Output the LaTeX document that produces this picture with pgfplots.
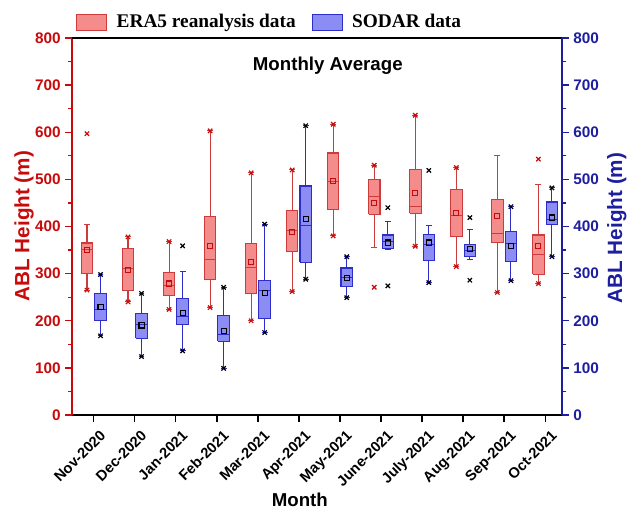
\documentclass[border=0pt]{standalone}
\usepackage{pgfplots}
\pgfplotsset{compat=1.18}
\usepackage{fontspec}
\setmainfont{Liberation Sans}
\newfontfamily\legfont{Liberation Serif}
\definecolor{axred}{RGB}{200,10,10}
\definecolor{axblue}{RGB}{30,30,160}
\definecolor{redE}{RGB}{205,60,60}
\definecolor{redF}{RGB}{245,140,140}
\definecolor{blueE}{RGB}{45,45,200}
\definecolor{blueF}{RGB}{140,140,245}
% #1 left edge, #2 right edge, #3 centre, #4 lower whisker, #5 lower quartile, #6 median, #7 upper quartile, #8 upper whisker
\newcommand{\rbox}[8]{%
\addplot[forget plot, draw=redE, line width=0.8pt, mark=-, mark size=2.2pt] coordinates {(#3,#4) (#3,#5)};
\addplot[forget plot, draw=redE, line width=0.8pt, mark=-, mark size=2.2pt] coordinates {(#3,#7) (#3,#8)};
\addplot[forget plot, draw=redE, fill=redF, line width=0.8pt] coordinates {(#1,#5) (#2,#5) (#2,#7) (#1,#7) (#1,#5)};
\addplot[forget plot, draw=redE, line width=0.8pt] coordinates {(#1,#6) (#2,#6)};}
\newcommand{\bbox}[8]{%
\addplot[forget plot, draw=blueE, line width=0.8pt, mark=-, mark size=2.2pt] coordinates {(#3,#4) (#3,#5)};
\addplot[forget plot, draw=blueE, line width=0.8pt, mark=-, mark size=2.2pt] coordinates {(#3,#7) (#3,#8)};
\addplot[forget plot, draw=blueE, fill=blueF, line width=0.8pt] coordinates {(#1,#5) (#2,#5) (#2,#7) (#1,#7) (#1,#5)};
\addplot[forget plot, draw=blueE, line width=0.8pt] coordinates {(#1,#6) (#2,#6)};}
\begin{document}
\begin{tikzpicture}
\begin{axis}[
  at={(0pt,0pt)}, anchor=south west,
  scale only axis, width=367.5pt, height=282.75pt,
  xmin=0.47, xmax=12.41, ymin=0, ymax=800,
  axis x line*=bottom, axis y line*=left,
  axis line style={-, line width=1pt},
  x axis line style={black},
  y axis line style={axred},
  xtick={1,...,12},
  xticklabels={Nov-2020,Dec-2020,Jan-2021,Feb-2021,Mar-2021,Apr-2021,May-2021,June-2021,July-2021,Aug-2021,Sep-2021,Oct-2021},
  xtick style={black, line width=1pt},
  ytick={0,100,...,800}, minor y tick num=1,
  ytick style={axred, line width=1pt},
  tick align=outside, major tick length=5pt, minor tick length=3pt,
  /pgf/number format/assume math mode=true,
  yticklabel style={text=axred, font=\fontsize{11.5}{13}\selectfont\bfseries},
  xticklabel style={xshift=4pt, yshift=-5.5pt, rotate=45, anchor=north east, font=\fontsize{11}{13}\selectfont\bfseries, inner sep=0pt},
  ylabel={ABL Height (m)},
  ylabel style={at={(axis description cs:-0.098,0.501)}, anchor=center, text=axred, font=\fontsize{15.5}{17}\selectfont\bfseries},
  xlabel={Month},
  xlabel style={at={(axis description cs:0.465,-0.225)}, anchor=center, font=\fontsize{14}{16}\selectfont\bfseries},
  legend style={at={(axis description cs:0.0,1.042)}, anchor=west, draw=none, fill=none, legend columns=2,
    font=\legfont\bfseries\fontsize{14.5}{16}\selectfont,
    /tikz/every even column/.append style={column sep=10pt}},
  legend cell align=left,
  legend image code/.code={\draw[#1, line width=0.8pt] (0pt,-6pt) rectangle (22.5pt,6pt);},
  clip=false,
]
\addlegendimage{draw=redE, fill=redF}
\addlegendentry{\hspace{5pt}ERA5 reanalysis data}
\addlegendimage{draw=blueE, fill=blueF}
\addlegendentry{\hspace{5pt}SODAR data}
% ERA5 boxes
\rbox{0.695}{0.975}{0.835}{265}{300}{351}{365}{404}
\rbox{1.695}{1.975}{1.835}{240}{265}{310}{353}{378}
\rbox{2.695}{2.975}{2.835}{224}{254}{274}{303}{368}
\rbox{3.695}{3.975}{3.835}{228}{288}{329}{421}{603}
\rbox{4.695}{4.975}{4.835}{200}{258}{313}{364}{514}
\rbox{5.695}{5.975}{5.835}{262}{346}{391}{433}{520}
\rbox{6.695}{6.975}{6.835}{380}{437}{496}{556}{617}
\rbox{7.695}{7.975}{7.835}{356}{426}{463}{500}{530}
\rbox{8.695}{8.975}{8.835}{358}{428}{442}{520}{636}
\rbox{9.695}{9.975}{9.835}{315}{378}{423}{479}{525}
\rbox{10.695}{10.975}{10.835}{260}{366}{386}{458}{551}
\rbox{11.695}{11.975}{11.835}{279}{299}{341}{382}{490}
% SODAR boxes
\bbox{1.025}{1.305}{1.165}{168}{200}{224}{257}{298}
\bbox{2.025}{2.305}{2.165}{124}{163}{192}{216}{258}
\bbox{3.025}{3.305}{3.165}{136}{192}{210}{247}{304}
\bbox{4.025}{4.305}{4.165}{99}{156}{170}{211}{271}
\bbox{5.025}{5.305}{5.165}{175}{204}{265}{286}{405}
\bbox{6.025}{6.305}{6.165}{288}{324}{403}{486}{614}
\bbox{7.025}{7.305}{7.165}{249}{272}{291}{312}{336}
\bbox{8.025}{8.305}{8.165}{351}{353}{368}{382}{411}
\bbox{9.025}{9.305}{9.165}{281}{327}{362}{384}{403}
\bbox{10.025}{10.305}{10.165}{329}{337}{350}{362}{394}
\bbox{11.025}{11.305}{11.165}{285}{325}{364}{389}{442}
\bbox{12.025}{12.305}{12.165}{336}{405}{415}{452}{482}
% means
\addplot[forget plot, only marks, mark=square, mark size=1.9pt, mark options={draw=axred, line width=0.8pt}] coordinates {
(0.835,351) (1.835,307) (2.835,279) (3.835,358) (4.835,325) (5.835,389)
(6.835,496) (7.835,449) (8.835,471) (9.835,428) (10.835,423) (11.835,358)};
\addplot[forget plot, only marks, mark=square, mark size=1.9pt, mark options={draw=black, line width=0.8pt}] coordinates {
(1.165,230) (2.165,190) (3.165,216) (4.165,179) (5.165,259) (6.165,416)
(7.165,291) (8.165,366) (9.165,366) (10.165,352) (11.165,358) (12.165,419)};
% extremes / outliers
\addplot[forget plot, only marks, mark=x, mark size=2.3pt, mark options={draw=axred, line width=0.9pt}] coordinates {
(0.835,265) (0.835,597) (1.835,240) (1.835,378) (2.835,224) (2.835,368)
(3.835,228) (3.835,603) (4.835,200) (4.835,514) (5.835,262) (5.835,520)
(6.835,380) (6.835,617) (7.835,530) (7.835,271) (8.835,358) (8.835,636)
(9.835,315) (9.835,525) (10.835,260) (11.835,279) (11.835,543)};
\addplot[forget plot, only marks, mark=x, mark size=2.3pt, mark options={draw=black, line width=0.9pt}] coordinates {
(1.165,168) (1.165,298) (2.165,124) (2.165,258) (3.165,136) (3.165,359)
(4.165,99) (4.165,271) (5.165,175) (5.165,405) (6.165,288) (6.165,614)
(7.165,249) (7.165,336) (8.165,440) (8.165,274) (9.165,281) (9.165,519)
(10.165,419) (10.165,286) (11.165,285) (11.165,442) (12.165,336) (12.165,482)};
\node[font=\fontsize{14}{16}\selectfont\bfseries] at (axis description cs:0.522,0.926) {Monthly Average};
\end{axis}
\begin{axis}[
  at={(0pt,0pt)}, anchor=south west,
  scale only axis, width=367.5pt, height=282.75pt,
  xmin=0.47, xmax=12.41, ymin=0, ymax=800,
  axis x line*=top, axis y line*=right,
  axis line style={-, line width=1pt},
  x axis line style={black},
  y axis line style={axblue},
  xtick=\empty,
  ytick={0,100,...,800}, minor y tick num=1,
  ytick style={axblue, line width=1pt},
  tick align=outside, major tick length=5pt, minor tick length=3pt,
  /pgf/number format/assume math mode=true,
  yticklabel style={text=axblue, font=\fontsize{11.5}{13}\selectfont\bfseries},
  ylabel={ABL Height (m)},
  ylabel style={at={(axis description cs:1.112,0.496)}, anchor=center, text=axblue, font=\fontsize{15.5}{17}\selectfont\bfseries},
]
\end{axis}
\pgfresetboundingbox
\path[use as bounding box] (-54pt,-73.5pt) rectangle (417.75pt,311.25pt);
\end{tikzpicture}
\end{document}
